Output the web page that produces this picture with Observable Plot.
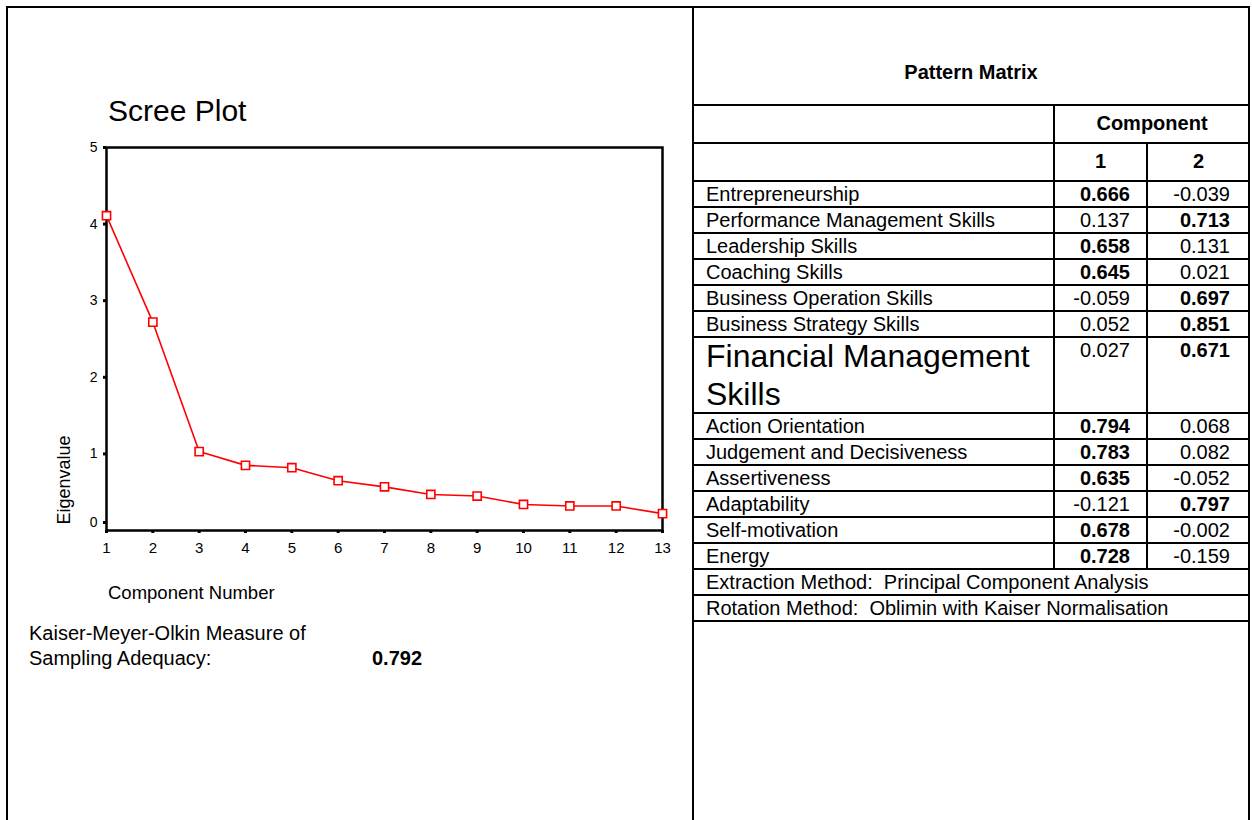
<!DOCTYPE html>
<html>
<head>
<meta charset="utf-8">
<script src="https://cdn.jsdelivr.net/npm/d3@7"></script>
<script src="https://cdn.jsdelivr.net/npm/@observablehq/plot@0.6"></script>
<style>
  body { margin: 0; background: #fff; }
  #page { position: relative; width: 1252px; height: 820px; overflow: hidden; font-family: "Liberation Sans", Arial, sans-serif; color: #000; }
  .abs { position: absolute; }
  .h { position: absolute; height: 2px; background: #000; }
  .v { position: absolute; width: 2px; background: #000; }
  .t { position: absolute; white-space: nowrap; }
</style>
</head>
<body>
<div id="page">
  <div id="plot" class="abs" style="left:0;top:0"></div>
  <div class="abs" style="left:6px;top:6px;width:1244px;height:900px;border:2px solid #000;box-sizing:border-box;"></div>
  <div class="v" style="left:692px;top:6px;height:900px;"></div>
  <div class="t" style="left:108px;top:93px;font-size:30px;line-height:36px;">Scree Plot</div>
  <div class="t" style="left:64px;top:480px;font-size:18px;line-height:20px;transform:translate(-50%,-50%) rotate(-90deg);">Eigenvalue</div>
  <div class="t" style="left:108px;top:583px;font-size:18.5px;line-height:20px;">Component Number</div>
  <div class="t" style="left:29px;top:621px;font-size:20px;line-height:25px;">Kaiser-Meyer-Olkin Measure of<br>Sampling Adequacy:</div>
  <div id="kmo" class="t" style="left:372px;top:646px;font-size:20px;line-height:25px;font-weight:bold;"></div>
  <div id="table"></div>
</div>
<script>
// ---- Scree plot data ----
const components = [1, 2, 3, 4, 5, 6, 7, 8, 9, 10, 11, 12, 13];
const eigenvalues = [4.11, 2.72, 1.03, 0.85, 0.82, 0.65, 0.57, 0.47, 0.45, 0.34, 0.32, 0.32, 0.22];
const yTicks = [0, 1, 2, 3, 4, 5];
const xTicks = components;

// ---- KMO ----
const kmoValue = "0.792";

// ---- Pattern matrix data ----
const matrixTitle = "Pattern Matrix";
const componentHeader = "Component";
const componentNumbers = ["1", "2"];
const variables = [
  "Entrepreneurship",
  "Performance Management Skills",
  "Leadership Skills",
  "Coaching Skills",
  "Business Operation Skills",
  "Business Strategy Skills",
  "Financial Management Skills",
  "Action Orientation",
  "Judgement and Decisiveness",
  "Assertiveness",
  "Adaptability",
  "Self-motivation",
  "Energy"
];
const component1 = ["0.666", "0.137", "0.658", "0.645", "-0.059", "0.052", "0.027", "0.794", "0.783", "0.635", "-0.121", "0.678", "0.728"];
const component2 = ["-0.039", "0.713", "0.131", "0.021", "0.697", "0.851", "0.671", "0.068", "0.082", "-0.052", "0.797", "-0.002", "-0.159"];
const footnotes = [
  "Extraction Method:\u00a0 Principal Component Analysis",
  "Rotation Method:\u00a0 Oblimin with Kaiser Normalisation"
];

// ---- Scree plot ----
const data = components.map((c, i) => ({component: c, eigenvalue: eigenvalues[i]}));
const red = "#ff0000";
const font = "'Liberation Sans', Arial, sans-serif";
const chart = Plot.plot({
  width: 693,
  height: 620,
  marginLeft: 106,
  marginRight: 31,
  marginTop: 147,
  marginBottom: 90,
  style: {fontFamily: font, background: "transparent", overflow: "visible"},
  x: {domain: [1, 13]},
  y: {domain: [0, 5]},
  marks: [
    Plot.axisY(yTicks.filter(d => d > 0), {tickSize: 3, strokeWidth: 3, tickPadding: 6, fontSize: 14, label: null, tickFormat: d => String(d)}),
    Plot.axisY(yTicks.filter(d => d === 0), {tickSize: 3, strokeWidth: 3, tickPadding: 6, fontSize: 14, label: null, dy: -8, tickFormat: d => String(d)}),
    Plot.axisX(xTicks, {tickSize: 3, strokeWidth: 3, tickPadding: 9, fontSize: 15, label: null, tickFormat: d => String(d)}),
    Plot.frame({stroke: "#000", strokeWidth: 2.5}),
    Plot.line(data, {x: "component", y: "eigenvalue", stroke: red, strokeWidth: 1.6}),
    Plot.dot(data, {x: "component", y: "eigenvalue", symbol: "square", r: 4.6, stroke: red, strokeWidth: 1.6, fill: "#fff"})
  ]
});
document.getElementById("plot").appendChild(chart);
document.getElementById("kmo").textContent = kmoValue;

// ---- Pattern matrix table (HTML) ----
const tbl = document.getElementById("table");
const L = 692, C1 = 1054, C2 = 1147, R = 1250;
function hline(y, x0, x1) {
  const d = document.createElement("div");
  d.className = "h";
  d.style.left = x0 + "px"; d.style.top = (y - 1) + "px"; d.style.width = (x1 - x0) + "px";
  tbl.appendChild(d);
}
function vline(x, y0, y1) {
  const d = document.createElement("div");
  d.className = "v";
  d.style.left = (x - 1) + "px"; d.style.top = y0 + "px"; d.style.height = (y1 - y0) + "px";
  tbl.appendChild(d);
}
function text(str, opts) {
  const d = document.createElement("div");
  d.className = "t";
  d.textContent = str;
  Object.assign(d.style, opts);
  tbl.appendChild(d);
  return d;
}

// title
text(matrixTitle, {left: L + "px", width: (R - L) + "px", textAlign: "center", top: "60px", fontSize: "20px", lineHeight: "24px", fontWeight: "bold"});
hline(105, L, R);
text(componentHeader, {left: C1 + "px", width: (R - C1) + "px", textAlign: "center", top: "110px", fontSize: "20px", lineHeight: "26px", fontWeight: "bold"});
hline(143, L, R);
text(componentNumbers[0], {left: C1 + "px", width: (C2 - C1) + "px", textAlign: "center", top: "148px", fontSize: "20px", lineHeight: "26px", fontWeight: "bold"});
text(componentNumbers[1], {left: C2 + "px", width: (R - C2) + "px", textAlign: "center", top: "148px", fontSize: "20px", lineHeight: "26px", fontWeight: "bold"});
hline(181, L, R);

let y = 181;
const rowH = 26;
variables.forEach((name, i) => {
  const big = name === "Financial Management Skills";
  const h = big ? 76 : rowH;
  if (big) {
    text("Financial Management", {left: (L + 14) + "px", top: (y + 0) + "px", fontSize: "32px", lineHeight: "38px"});
    text("Skills", {left: (L + 14) + "px", top: (y + 38) + "px", fontSize: "32px", lineHeight: "38px"});
  } else {
    text(name, {left: (L + 14) + "px", top: y + "px", fontSize: "20px", lineHeight: rowH + "px"});
  }
  const a = component1[i], b = component2[i];
  const boldA = Math.abs(+a) > Math.abs(+b);
  text(a, {left: C1 + "px", width: (C2 - C1 - 17) + "px", textAlign: "right", top: y + "px", fontSize: "20px", lineHeight: rowH + "px", fontWeight: boldA ? "bold" : "normal"});
  text(b, {left: C2 + "px", width: (R - C2 - 20) + "px", textAlign: "right", top: y + "px", fontSize: "20px", lineHeight: rowH + "px", fontWeight: boldA ? "normal" : "bold"});
  y += h;
  hline(y, L, R);
});
vline(C1, 105, y);
vline(C2, 143, y);
footnotes.forEach(f => {
  text(f, {left: (L + 14) + "px", top: y + "px", fontSize: "20px", lineHeight: rowH + "px"});
  y += rowH;
  hline(y, L, R);
});
</script>
</body>
</html>
